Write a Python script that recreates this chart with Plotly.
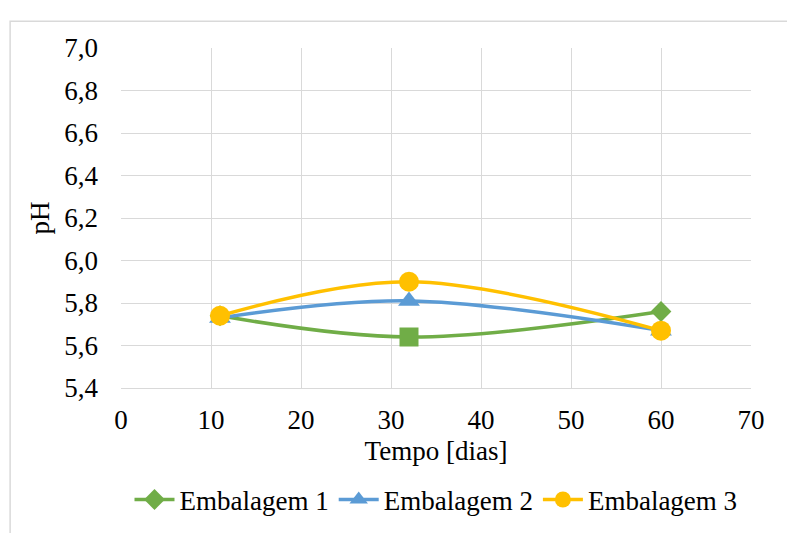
import plotly.graph_objects as go

# Storage time (days) and pH measured for each packaging
dias = [11, 32, 60]
ph_emb1 = [5.74, 5.64, 5.76]
ph_emb2 = [5.73, 5.81, 5.67]
ph_emb3 = [5.74, 5.90, 5.67]

x_ticks = [0, 10, 20, 30, 40, 50, 60, 70]
y_ticks = [5.4, 5.6, 5.8, 6.0, 6.2, 6.4, 6.6, 6.8, 7.0]

FONT = "Liberation Serif, Times New Roman, serif"
FS = 27

fig = go.Figure()
fig.add_trace(go.Scatter(
    x=dias, y=ph_emb1, name="Embalagem 1", mode="lines+markers",
    line=dict(color="#70AD47", width=3.5, shape="spline", smoothing=1),
    marker=dict(symbol=["diamond", "square", "diamond"], size=[16, 19, 16],
                color="#70AD47", opacity=1, line=dict(width=0)),
))
fig.add_trace(go.Scatter(
    x=dias, y=ph_emb2, name="Embalagem 2", mode="lines+markers",
    line=dict(color="#5B9BD5", width=3.5, shape="spline", smoothing=1),
    marker=dict(symbol="triangle-up", size=19, color="#5B9BD5", opacity=1, line=dict(width=0)),
))
fig.add_trace(go.Scatter(
    x=dias, y=ph_emb3, name="Embalagem 3", mode="lines+markers",
    line=dict(color="#FFC000", width=3.5, shape="spline", smoothing=1),
    marker=dict(symbol="circle", size=20, color="#FFC000", opacity=1, line=dict(width=0)),
))

fig.update_layout(
    width=787, height=533,
    margin=dict(l=121, r=36, t=48, b=145, autoexpand=False),
    paper_bgcolor="white", plot_bgcolor="white",
    separators=",.",
    font=dict(family=FONT, size=FS, color="black"),
    showlegend=True,
    legend=dict(orientation="h", x=0.5, xanchor="center",
                yref="container", y=0.062, yanchor="middle",
                font=dict(family=FONT, size=FS), itemwidth=40, tracegroupgap=0),
    shapes=[dict(type="rect", xref="paper", yref="paper",
                 x0=-0.176, x1=1.2, y0=-0.7, y1=1.079,
                 line=dict(color="#D9D9D9", width=1.5), layer="below")],
)
fig.update_xaxes(
    range=[0, 70], tickvals=x_ticks, showgrid=True, gridcolor="#D9D9D9", gridwidth=1,
    zeroline=False, showline=True, linecolor="#D9D9D9", linewidth=1,
    ticks="", tickfont=dict(size=FS), ticklabelstandoff=8,
    title=dict(text="Tempo [dias]", font=dict(size=FS), standoff=6),
)
fig.update_yaxes(
    range=[5.4, 7.0], tickvals=y_ticks, tickformat=".1f", showgrid=True,
    gridcolor="#D9D9D9", gridwidth=1, zeroline=False, showline=False,
    ticks="", tickfont=dict(size=FS), ticklabelstandoff=22,
    title=dict(text="pH", font=dict(size=FS), standoff=6),
)

fig.write_html("out.html")
